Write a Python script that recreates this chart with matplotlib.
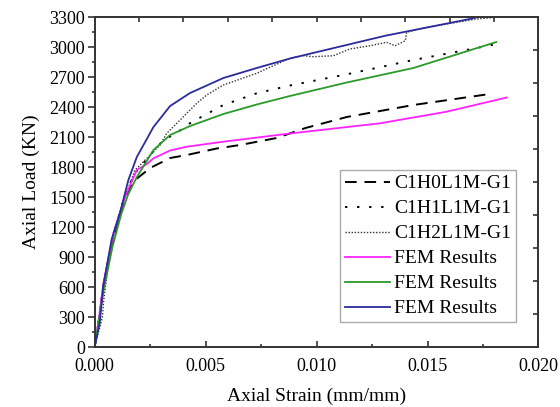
import matplotlib
matplotlib.use("Agg")
import matplotlib.pyplot as plt
import numpy as np

plt.rcParams['font.family'] = ['Liberation Serif', 'DejaVu Serif']
plt.rcParams['mathtext.fontset'] = 'stix'

# Test curves (axial strain, axial load in KN)
h0_strain = [0, 0.0002, 0.0004, 0.0008, 0.0012, 0.0016, 0.00182, 0.00205, 0.0025, 0.0034,
             0.00415, 0.0055, 0.00655, 0.0082, 0.0095, 0.01136, 0.01436, 0.0178]
h0_load = [0, 280, 620, 1060, 1380, 1600, 1670, 1710, 1790, 1890,
           1920, 1985, 2020, 2090, 2190, 2300, 2420, 2530]

h1_strain = [0, 0.0002, 0.0004, 0.0008, 0.0012, 0.0016, 0.0019, 0.0025, 0.0031, 0.0037,
             0.00415, 0.0048, 0.0058, 0.0073, 0.0088, 0.01136, 0.01436, 0.0171, 0.018]
h1_load = [0, 280, 620, 1080, 1400, 1640, 1760, 1920, 2070, 2140,
           2220, 2300, 2420, 2537, 2615, 2727, 2870, 2985, 3025]

h2_strain = [0, 0.00016, 0.00028, 0.00035, 0.0004, 0.0006, 0.001, 0.0014, 0.00182, 0.0022,
             0.00265, 0.00295, 0.00325, 0.0037, 0.00415, 0.0046, 0.00505, 0.0058, 0.0073,
             0.00882, 0.0094, 0.00986, 0.01076, 0.0115, 0.01241, 0.01316, 0.01354, 0.0140,
             0.01406, 0.01481, 0.01632, 0.0172, 0.018]
h2_load = [0, 137, 240, 300, 450, 800, 1200, 1520, 1770, 1853,
           1953, 2020, 2137, 2237, 2337, 2437, 2520, 2620, 2737,
           2890, 2913, 2903, 2913, 2980, 3013, 3047, 3013, 3063,
           3147, 3190, 3247, 3280, 3295]

# FEM curves
fem0_strain = [0, 0.0002, 0.0004, 0.00085, 0.00137, 0.0019, 0.00235, 0.00265, 0.0034,
               0.00415, 0.0058, 0.0088, 0.01286, 0.01586, 0.01857]
fem0_load = [0, 300, 640, 1140, 1500, 1770, 1830, 1887, 1965, 2003, 2053, 2135, 2237, 2353, 2495]

fem1_strain = [0, 0.0004, 0.0008, 0.0012, 0.0015, 0.0019, 0.0021, 0.00265, 0.0034, 0.0043,
               0.0058, 0.0073, 0.0088, 0.01136, 0.01436, 0.0181]
fem1_load = [0, 560, 1000, 1330, 1520, 1700, 1770, 1970, 2120, 2210,
             2330, 2425, 2510, 2645, 2790, 3050]

fem2_strain = [0, 0.00023, 0.00038, 0.00076, 0.00115, 0.00152, 0.0019, 0.00265, 0.0034,
               0.0043, 0.0058, 0.0073, 0.0088, 0.0131, 0.0169, 0.0178]
fem2_load = [0, 240, 600, 1070, 1350, 1670, 1900, 2200, 2410,
             2540, 2690, 2790, 2885, 3113, 3280, 3330]

x_ticks = [0.000, 0.005, 0.010, 0.015, 0.020]
y_ticks = list(range(0, 3301, 300))

fig = plt.figure(figsize=(5.6, 4.07), dpi=100)
ax = fig.add_axes([0.169, 0.1474, 0.7926, 0.8108])

ax.plot(h0_strain, h0_load, color='black', lw=1.4, ls=(0, (6, 4)), label='C1H0L1M-G1')
ax.plot(h1_strain, h1_load, color='black', lw=1.4, ls=(0, (1.2, 5)), label='C1H1L1M-G1')
ax.plot(h2_strain, h2_load, color='#333333', lw=1.0, ls=(0, (1, 1.2)), label='C1H2L1M-G1')
ax.plot(fem0_strain, fem0_load, color='#ff22ff', lw=1.3, label='FEM Results')
ax.plot(fem1_strain, fem1_load, color='#2a9a2a', lw=1.3, label='FEM Results')
ax.plot(fem2_strain, fem2_load, color='#2b2b9c', lw=1.3, label='FEM Results')

ax.set_xlim(0, 0.020)
ax.set_ylim(0, 3300)
ax.set_xticks(x_ticks)
ax.set_xticklabels([f'{v:.3f}' for v in x_ticks])
ax.set_xticks(np.arange(0.0025, 0.020, 0.005), minor=True)
ax.set_yticks(y_ticks)
ax.set_yticks(np.arange(150, 3300, 300), minor=True)

spine_c = '#333333'
for s in ax.spines.values():
    s.set_linewidth(1.4)
    s.set_color(spine_c)

ax.tick_params(axis='x', which='major', direction='in', length=4.5, width=1.2,
               color=spine_c, labelsize=13, pad=8, top=False)
ax.tick_params(axis='x', which='minor', direction='in', length=2.5, width=1.2,
               color=spine_c, top=False)
ax.tick_params(axis='y', which='major', direction='out', length=4.8, width=1.2,
               color=spine_c, labelsize=13, pad=2, right=False)
ax.tick_params(axis='y', which='minor', direction='out', length=2.4, width=1.2,
               color=spine_c, right=False)

# ticks along the top and right frame
axt = ax.twiny()
axt.set_xlim(ax.get_xlim())
axt.set_xticks(np.arange(0.002, 0.020, 0.002))
axt.tick_params(axis='x', direction='in', length=3.8, width=1.2, color=spine_c,
                labeltop=False)
axr = ax.twinx()
axr.set_ylim(ax.get_ylim())
axr.set_yticks(np.arange(330, 3300, 330))
axr.tick_params(axis='y', direction='in', length=3.8, width=1.2, color=spine_c,
                labelright=False)
for a in (axt, axr):
    for s in a.spines.values():
        s.set_visible(False)

ax.set_xlabel('Axial Strain (mm/mm)', fontsize=14, labelpad=9)
ax.set_ylabel('Axial Load (KN)', fontsize=14, labelpad=7)

leg = ax.legend(loc='lower right', bbox_to_anchor=(0.95, 0.075), fontsize=14,
                handlelength=2.3, handletextpad=0.25, borderpad=0.25,
                labelspacing=0.38, fancybox=False, framealpha=1, borderaxespad=0)
leg.get_frame().set_edgecolor('#aaaaaa')
leg.get_frame().set_linewidth(1.0)
leg.set_zorder(5)

fig.savefig('out.png', dpi=100)
